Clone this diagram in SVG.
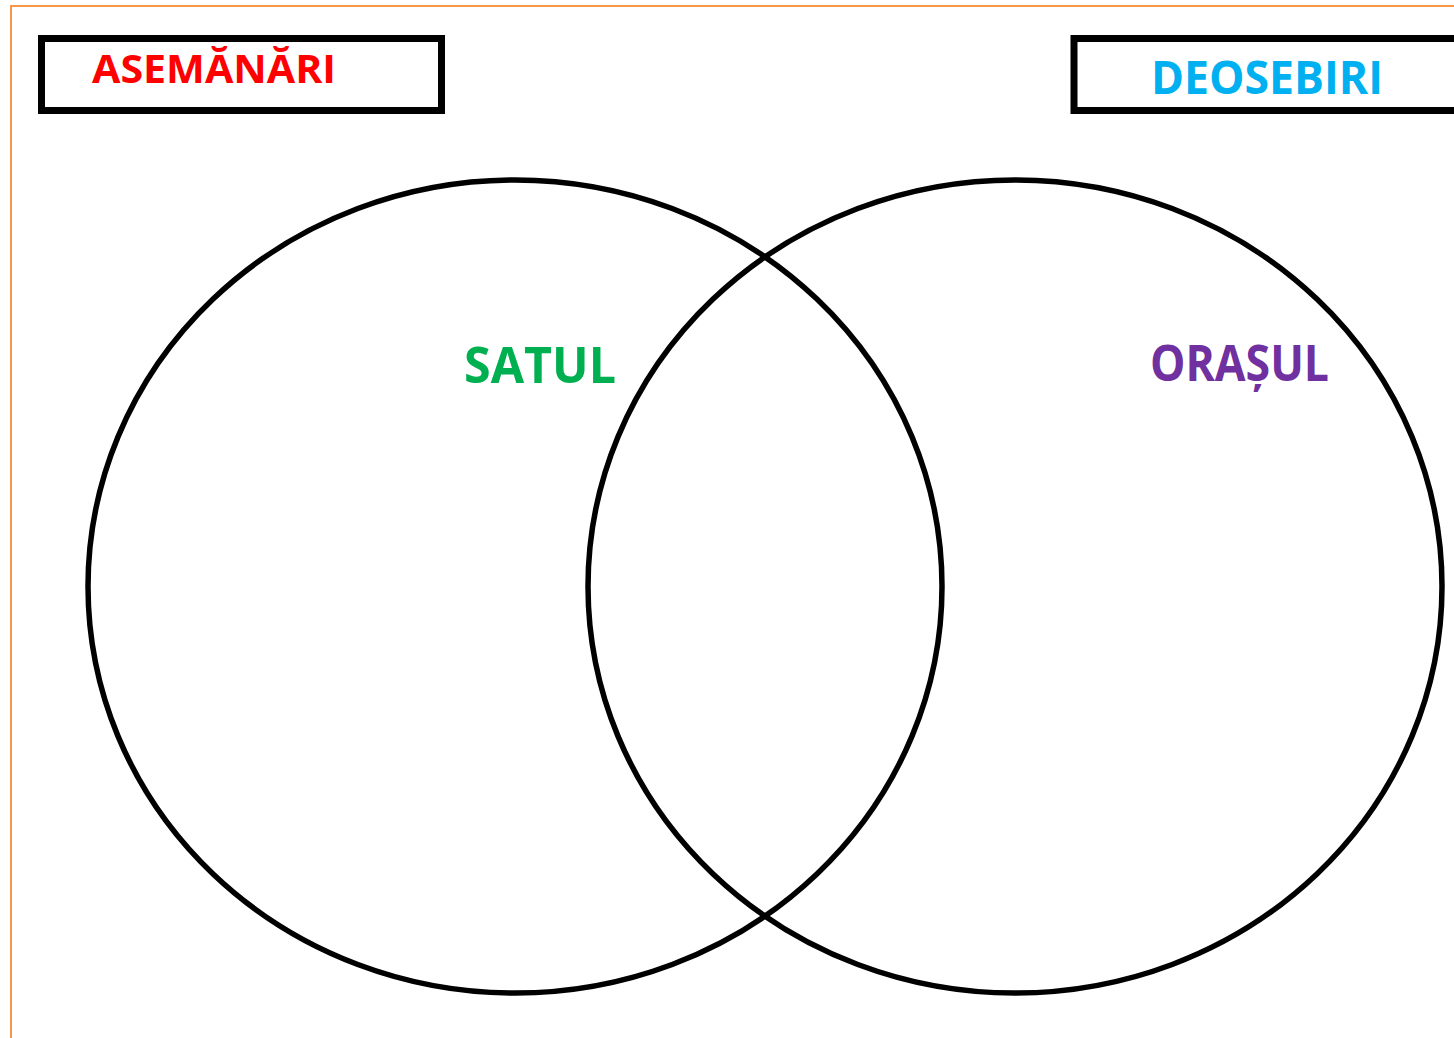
<svg xmlns="http://www.w3.org/2000/svg" width="1454" height="1038" viewBox="0 0 1454 1038">
  <style>
    .lbl { font-family: "Open Sans", "Liberation Sans", sans-serif; font-weight: bold; }
    .box { fill: #ffffff; stroke: #000000; stroke-width: 7; }
    .ring { fill: none; stroke: #000000; stroke-width: 5.5; }
  </style>
  <rect x="0" y="0" width="1454" height="1038" fill="#ffffff"/>
  <g id="frame">
    <line x1="10" y1="6" x2="1454" y2="6" stroke="#F79646" stroke-width="2"/>
    <line x1="11" y1="5" x2="11" y2="1038" stroke="#F79646" stroke-width="2"/>
  </g>
  <g id="connectors"></g>
  <g id="circle-satul">
    <ellipse class="ring" cx="515" cy="586.5" rx="427" ry="406.5"/>
  </g>
  <g id="circle-orasul">
    <ellipse class="ring" cx="1015" cy="586.5" rx="427" ry="406.5"/>
  </g>
  <g id="box-asemanari">
    <rect class="box" x="41.5" y="38.5" width="400" height="72"/>
    <text class="lbl" x="92" y="83" font-size="40" fill="#FF0000" textLength="244" lengthAdjust="spacingAndGlyphs">ASEMĂNĂRI</text>
  </g>
  <g id="box-deosebiri">
    <rect class="box" x="1074" y="38.5" width="400" height="72"/>
    <text class="lbl" x="1151" y="94" font-size="47" fill="#00B0F0" textLength="232" lengthAdjust="spacingAndGlyphs">DEOSEBIRI</text>
  </g>
  <g id="label-satul">
    <text class="lbl" x="464" y="383" font-size="51" fill="#00B050" textLength="152" lengthAdjust="spacingAndGlyphs">SATUL</text>
  </g>
  <g id="label-orasul">
    <text class="lbl" x="1150" y="381" font-size="51" fill="#7030A0" textLength="179" lengthAdjust="spacingAndGlyphs">ORAȘUL</text>
  </g>
</svg>
